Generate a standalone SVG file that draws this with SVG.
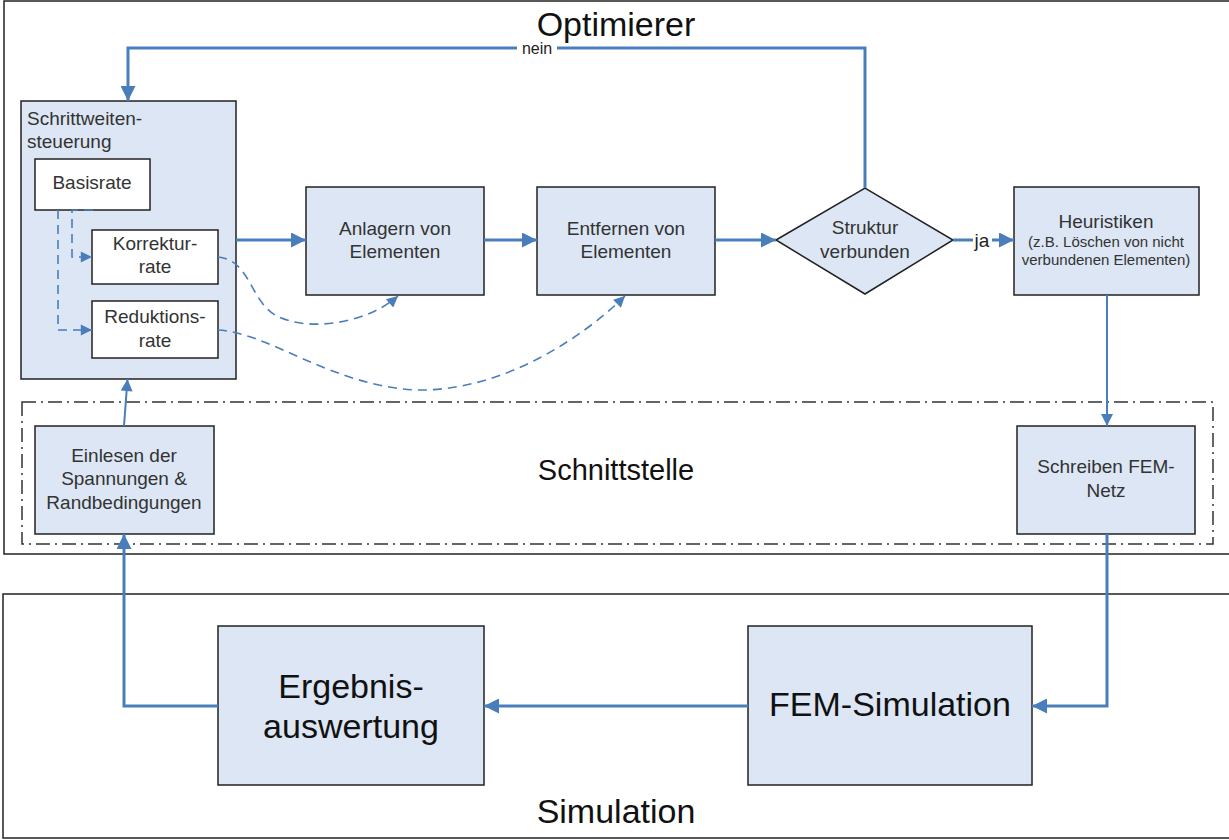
<svg xmlns="http://www.w3.org/2000/svg" width="1229" height="840" viewBox="0 0 1229 840">
<style>
.frame{fill:#fff;stroke:#222;stroke-width:1.5}
.box{fill:#dce6f4;stroke:#222;stroke-width:1.5}
.wbox{fill:#fff;stroke:#222;stroke-width:1.5}
.t{font-family:"Liberation Sans",Arial,sans-serif;fill:#333;text-anchor:middle}
.m{font-size:19px}
.s{font-size:15px}
.big{font-size:34px;fill:#111}
.c{fill:none;stroke:#4a7ebb;stroke-width:3}
.thin{fill:none;stroke:#4a7ebb;stroke-width:2}
.dash{fill:none;stroke:#4a7ebb;stroke-width:1.6;stroke-dasharray:9,6}
</style>
<defs>
<marker id="ah" viewBox="0 0 10 10" refX="10" refY="5" markerWidth="6" markerHeight="5" markerUnits="strokeWidth" orient="auto"><path d="M0,0 L10,5 L0,10 z" fill="#4a7ebb"/></marker>
<marker id="ahs" viewBox="0 0 10 10" refX="10" refY="5" markerWidth="7" markerHeight="6" markerUnits="strokeWidth" orient="auto"><path d="M0,0 L10,5 L0,10 z" fill="#4a7ebb"/></marker>
<marker id="ahd" viewBox="0 0 10 10" refX="10" refY="5" markerWidth="9" markerHeight="7" markerUnits="strokeWidth" orient="auto"><path d="M0,0 L10,5 L0,10 z" fill="#4a7ebb"/></marker>
</defs>
<g id="optimierer">
<rect class="frame" x="4" y="1" width="1232" height="553"/>
<text class="t big" x="616" y="36">Optimierer</text>
</g>
<g id="simulation">
<rect class="frame" x="3" y="594" width="1232" height="244"/>
<text class="t big" x="616" y="823">Simulation</text>
</g>
<g id="schnittstelle">
<rect x="22" y="402" width="1191" height="142" fill="none" stroke="#333" stroke-width="1.5" stroke-dasharray="14,5,2,5"/>
<text class="t" x="616" y="480" style="font-size:29px;fill:#111">Schnittstelle</text>
</g>
<g id="schrittweitensteuerung">
<rect class="box" x="21" y="101" width="215" height="278"/>
<text class="t m" x="27" y="125" style="text-anchor:start">Schrittweiten-</text>
<text class="t m" x="27" y="148" style="text-anchor:start">steuerung</text>
</g>
<g id="basisrate">
<rect class="wbox" x="35" y="159" width="115" height="51"/>
<text class="t m" x="92" y="189">Basisrate</text>
</g>
<g id="korrekturrate">
<rect class="wbox" x="92" y="230" width="126" height="54"/>
<text class="t m" x="155" y="250">Korrektur-</text>
<text class="t m" x="155" y="273">rate</text>
</g>
<g id="reduktionsrate">
<rect class="wbox" x="92" y="301" width="126" height="57"/>
<text class="t m" x="155" y="323">Reduktions-</text>
<text class="t m" x="155" y="347">rate</text>
</g>
<g id="anlagern">
<rect class="box" x="306" y="187" width="178" height="108"/>
<text class="t m" x="395" y="235">Anlagern von</text>
<text class="t m" x="395" y="258">Elementen</text>
</g>
<g id="entfernen">
<rect class="box" x="537" y="187" width="178" height="108"/>
<text class="t m" x="626" y="235">Entfernen von</text>
<text class="t m" x="626" y="258">Elementen</text>
</g>
<g id="struktur">
<path class="box" d="M776,240 L865,188 L953,240 L865,294 Z"/>
<text class="t m" x="865" y="234">Struktur</text>
<text class="t m" x="865" y="258">verbunden</text>
</g>
<g id="heuristiken">
<rect class="box" x="1014" y="187" width="185" height="108"/>
<text class="t m" x="1106" y="228">Heuristiken</text>
<text class="t s" x="1106" y="247">(z.B. Löschen von nicht</text>
<text class="t s" x="1106" y="265">verbundenen Elementen)</text>
</g>
<g id="einlesen">
<rect class="box" x="35" y="426" width="179" height="108"/>
<text class="t m" x="124" y="462">Einlesen der</text>
<text class="t m" x="124" y="485">Spannungen &amp;</text>
<text class="t m" x="124" y="509">Randbedingungen</text>
</g>
<g id="schreiben">
<rect class="box" x="1017" y="426" width="178" height="108"/>
<text class="t m" x="1106" y="473">Schreiben FEM-</text>
<text class="t m" x="1106" y="497">Netz</text>
</g>
<g id="ergebnis">
<rect class="box" x="218" y="626" width="266" height="159"/>
<text class="t big" x="351" y="698">Ergebnis-</text>
<text class="t big" x="351" y="738">auswertung</text>
</g>
<g id="fem">
<rect class="box" x="748" y="626" width="284" height="159"/>
<text class="t big" x="890" y="716">FEM-Simulation</text>
</g>
<g id="connectors">
<path class="c" d="M865,188 V48 H128 V101" marker-end="url(#ah)"/>
<rect x="517" y="40" width="40" height="16" fill="#fff"/>
<text class="t" x="537" y="54" style="font-size:16px;fill:#222">nein</text>
<path class="c" d="M236,240 H306" marker-end="url(#ah)"/>
<path class="c" d="M484,240 H537" marker-end="url(#ah)"/>
<path class="c" d="M715,240 H776" marker-end="url(#ah)"/>
<path class="c" d="M953,240 H1014" marker-end="url(#ah)"/>
<rect x="973" y="230" width="19" height="20" fill="#fff"/>
<text class="t m" x="982" y="247" style="fill:#222">ja</text>
<path class="thin" d="M1107,295 V426" marker-end="url(#ahs)"/>
<path class="c" d="M1107,534 V706 H1032" marker-end="url(#ah)"/>
<path class="c" d="M748,706 H484" marker-end="url(#ah)"/>
<path class="c" d="M218,706 H124 V534" marker-end="url(#ah)"/>
<path class="thin" d="M124,426 L127.5,379" marker-end="url(#ahs)"/>
<path class="dash" d="M93,210 H72 V257 H92" marker-end="url(#ahd)"/>
<path class="dash" d="M58,210 V330 H92" marker-end="url(#ahd)"/>
<path class="dash" d="M218,257 C250,260 250,300 275,315 C305,332 365,325 398,296" marker-end="url(#ahd)"/>
<path class="dash" d="M218,330 C270,333 330,385 415,390 C500,392 580,340 625,296" marker-end="url(#ahd)"/>
</g>
</svg>
